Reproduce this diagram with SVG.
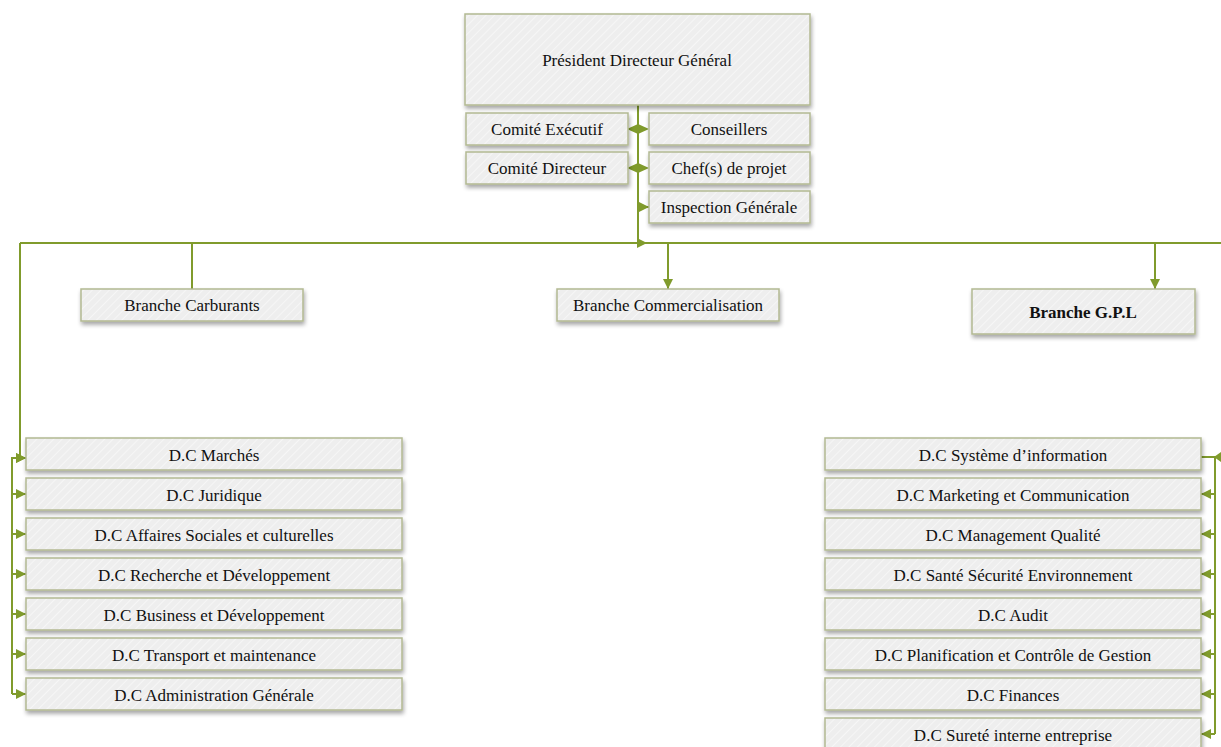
<svg xmlns="http://www.w3.org/2000/svg" width="1221" height="747" viewBox="0 0 1221 747">
  <style>
    .box { fill: url(#hatch); stroke: #b3b992; stroke-width: 1.5; filter: url(#shadow); }
    .lbl { font-family: "Liberation Serif", "Times New Roman", serif; font-size: 17px; fill: #111; text-anchor: middle; dominant-baseline: central; }
    .bold { font-weight: bold; }
    .wire { fill: none; stroke: #809b2c; stroke-width: 2; }
  </style>
  <defs>
    <pattern id="hatch" width="6" height="6" patternUnits="userSpaceOnUse" patternTransform="rotate(45)">
      <rect width="6" height="6" fill="#eeeeee"/>
      <line x1="0" y1="0" x2="0" y2="6" stroke="#f6f6f6" stroke-width="2"/>
    </pattern>
    <filter id="shadow" x="-5%" y="-20%" width="110%" height="160%">
      <feGaussianBlur in="SourceAlpha" stdDeviation="2"/>
      <feOffset dx="1" dy="3" result="b"/>
      <feComponentTransfer><feFuncA type="linear" slope="0.35"/></feComponentTransfer>
      <feMerge><feMergeNode/><feMergeNode in="SourceGraphic"/></feMerge>
    </filter>
    <marker id="arr" viewBox="0 0 10 10" refX="10" refY="5" markerWidth="5" markerHeight="5" orient="auto" markerUnits="strokeWidth">
      <path d="M0,0 L10,5 L0,10 z" fill="#809b2c"/>
    </marker>
  </defs>

  <!-- connectors -->
  <g id="connectors">
    <path class="wire" d="M638,105 V243"/>
    <path d="M627,129 L638,124 L649,129 L638,134 z" fill="#809b2c"/>
    <path d="M627,168 L638,163 L649,168 L638,173 z" fill="#809b2c"/>
    <path class="wire" d="M638,207 H649" marker-end="url(#arr)"/>
    <path class="wire" d="M20,243 H1221"/>
    <path d="M637,238 L647,243 L637,248 z" fill="#809b2c"/>
    <path class="wire" d="M192,243 V289"/>
    <path class="wire" d="M668,243 V289" marker-end="url(#arr)"/>
    <path class="wire" d="M1155,243 V289" marker-end="url(#arr)"/>
    <!-- left directorates -->
    <path class="wire" d="M20,243 V458 H26" marker-end="url(#arr)"/>
    <path class="wire" d="M12,457 V694"/>
    <path class="wire" d="M12,458 H26" marker-end="url(#arr)"/>
    <path class="wire" d="M12,494 H26" marker-end="url(#arr)"/>
    <path class="wire" d="M12,534 H26" marker-end="url(#arr)"/>
    <path class="wire" d="M12,574 H26" marker-end="url(#arr)"/>
    <path class="wire" d="M12,614 H26" marker-end="url(#arr)"/>
    <path class="wire" d="M12,654 H26" marker-end="url(#arr)"/>
    <path class="wire" d="M12,694 H26" marker-end="url(#arr)"/>
    <!-- right directorates -->
    <path class="wire" d="M1201,457 H1221"/>
    <path d="M1221,452 L1214,457 L1221,462 z" fill="#809b2c"/>
    <path class="wire" d="M1215,457 V734"/>
    <path class="wire" d="M1215,494 H1201" marker-end="url(#arr)"/>
    <path class="wire" d="M1215,534 H1201" marker-end="url(#arr)"/>
    <path class="wire" d="M1215,574 H1201" marker-end="url(#arr)"/>
    <path class="wire" d="M1215,614 H1201" marker-end="url(#arr)"/>
    <path class="wire" d="M1215,654 H1201" marker-end="url(#arr)"/>
    <path class="wire" d="M1215,694 H1201" marker-end="url(#arr)"/>
    <path class="wire" d="M1215,734 H1201" marker-end="url(#arr)"/>
  </g>

  <!-- executive level -->
  <g id="pdg"><rect class="box" x="465" y="14" width="345" height="91"/><text class="lbl" x="637" y="60">Président Directeur Général</text></g>
  <g id="comite-executif"><rect class="box" x="466" y="113" width="162" height="32"/><text class="lbl" x="547" y="129">Comité Exécutif</text></g>
  <g id="conseillers"><rect class="box" x="649" y="113" width="161" height="32"/><text class="lbl" x="729" y="129">Conseillers</text></g>
  <g id="comite-directeur"><rect class="box" x="466" y="152" width="162" height="32"/><text class="lbl" x="547" y="168">Comité Directeur</text></g>
  <g id="chefs-projet"><rect class="box" x="649" y="152" width="161" height="32"/><text class="lbl" x="729" y="168">Chef(s) de projet</text></g>
  <g id="inspection"><rect class="box" x="649" y="191" width="161" height="32"/><text class="lbl" x="729" y="207">Inspection Générale</text></g>

  <!-- branches -->
  <g id="branche-carburants"><rect class="box" x="81" y="289" width="222" height="32"/><text class="lbl" x="192" y="305">Branche Carburants</text></g>
  <g id="branche-commercialisation"><rect class="box" x="557" y="289" width="222" height="32"/><text class="lbl" x="668" y="305">Branche Commercialisation</text></g>
  <g id="branche-gpl"><rect class="box" x="972" y="289" width="223" height="45"/><text class="lbl bold" x="1083" y="312">Branche G.P.L</text></g>

  <!-- left directorates -->
  <g id="dc-marches"><rect class="box" x="26" y="438" width="376" height="32"/><text class="lbl" x="214" y="455">D.C Marchés</text></g>
  <g id="dc-juridique"><rect class="box" x="26" y="478" width="376" height="32"/><text class="lbl" x="214" y="495">D.C Juridique</text></g>
  <g id="dc-affaires-sociales"><rect class="box" x="26" y="518" width="376" height="32"/><text class="lbl" x="214" y="535">D.C Affaires Sociales et culturelles</text></g>
  <g id="dc-recherche"><rect class="box" x="26" y="558" width="376" height="32"/><text class="lbl" x="214" y="575">D.C Recherche et Développement</text></g>
  <g id="dc-business"><rect class="box" x="26" y="598" width="376" height="32"/><text class="lbl" x="214" y="615">D.C Business et Développement</text></g>
  <g id="dc-transport"><rect class="box" x="26" y="638" width="376" height="32"/><text class="lbl" x="214" y="655">D.C Transport et maintenance</text></g>
  <g id="dc-administration"><rect class="box" x="26" y="678" width="376" height="32"/><text class="lbl" x="214" y="695">D.C Administration Générale</text></g>

  <!-- right directorates -->
  <g id="dc-si"><rect class="box" x="825" y="438" width="376" height="32"/><text class="lbl" x="1013" y="455">D.C Système d’information</text></g>
  <g id="dc-marketing"><rect class="box" x="825" y="478" width="376" height="32"/><text class="lbl" x="1013" y="495">D.C Marketing et Communication</text></g>
  <g id="dc-qualite"><rect class="box" x="825" y="518" width="376" height="32"/><text class="lbl" x="1013" y="535">D.C Management Qualité</text></g>
  <g id="dc-sse"><rect class="box" x="825" y="558" width="376" height="32"/><text class="lbl" x="1013" y="575">D.C Santé Sécurité Environnement</text></g>
  <g id="dc-audit"><rect class="box" x="825" y="598" width="376" height="32"/><text class="lbl" x="1013" y="615">D.C Audit</text></g>
  <g id="dc-planification"><rect class="box" x="825" y="638" width="376" height="32"/><text class="lbl" x="1013" y="655">D.C Planification et Contrôle de Gestion</text></g>
  <g id="dc-finances"><rect class="box" x="825" y="678" width="376" height="32"/><text class="lbl" x="1013" y="695">D.C Finances</text></g>
  <g id="dc-surete"><rect class="box" x="825" y="718" width="376" height="32"/><text class="lbl" x="1013" y="735">D.C Sureté interne entreprise</text></g>
</svg>
